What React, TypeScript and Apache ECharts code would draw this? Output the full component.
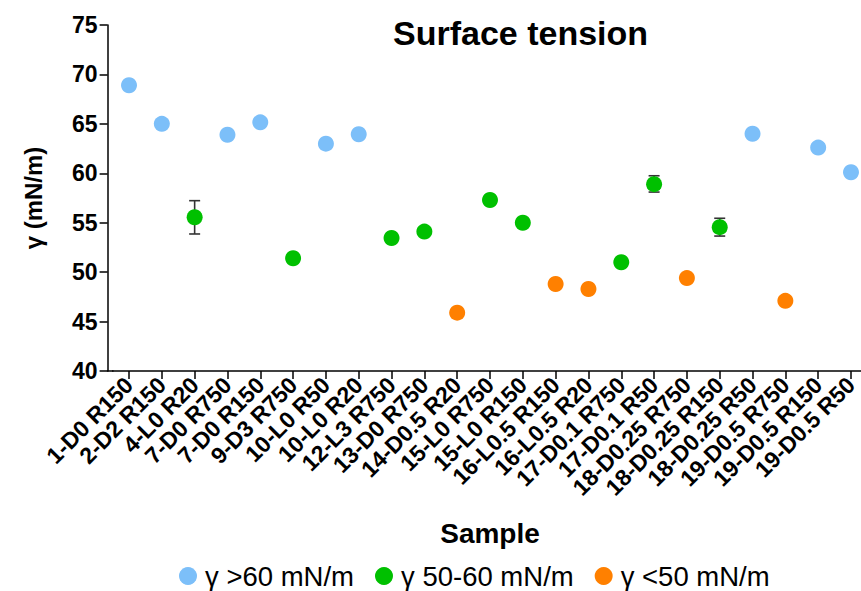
import React, { useEffect, useRef } from "react";
import * as echarts from "echarts";

const categories = [
  "1-D0 R150", "2-D2 R150", "4-L0 R20", "7-D0 R750", "7-D0 R150", "9-D3 R750",
  "10-L0 R50", "10-L0 R20", "12-L3 R750", "13-D0 R750", "14-D0.5 R20", "15-L0 R750",
  "15-L0 R150", "16-L0.5 R150", "16-L0.5 R20", "17-D0.1 R750", "17-D0.1 R50",
  "18-D0.25 R750", "18-D0.25 R150", "18-D0.25 R50", "19-D0.5 R750", "19-D0.5 R150", "19-D0.5 R50",
];

const tension = [
  68.9, 65.0, 55.55, 63.9, 65.15, 51.4,
  63.0, 63.95, 53.45, 54.1, 45.9, 57.3,
  55.0, 48.8, 48.3, 51.0, 58.9,
  49.4, 54.55, 64.0, 47.1, 62.6, 60.1,
];

const errorSamples = ["4-L0 R20", "17-D0.1 R50", "18-D0.25 R150"];
const errorLow = [53.86, 58.1, 53.65];
const errorHigh = [57.23, 59.75, 55.45];

const groupNames = ["γ >60 mN/m", "γ 50-60 mN/m", "γ <50 mN/m"];
const groupColors = ["#7cbff9", "#00c000", "#ff8000"];

const yTicks = { min: 40, max: 75, interval: 5 };

const FONT = "'Liberation Sans', Arial, Helvetica, sans-serif";

function groupOf(v: number): number {
  if (v > 60) return 0;
  if (v >= 50) return 1;
  return 2;
}

export default function App() {
  const ref = useRef<HTMLDivElement>(null);
  useEffect(() => {
    if (!ref.current) return;
    const chart = echarts.init(ref.current, null, { renderer: "svg" });

    const scatterSeries = groupNames.map((name, g) => ({
      name,
      type: "scatter",
      symbol: "circle",
      symbolSize: 16,
      z: 3,
      itemStyle: { color: groupColors[g], opacity: 1 },
      data: tension
        .map((v, i) => (groupOf(v) === g ? [categories[i], v] : null))
        .filter((d) => d !== null),
    }));

    const errorData = errorSamples.map((s, i) => [categories.indexOf(s), errorLow[i], errorHigh[i]]);

    const option: any = {
      animation: false,
      backgroundColor: "#ffffff",
      textStyle: { fontFamily: FONT },
      title: {
        text: "Surface tension",
        left: 388,
        top: 11,
        textStyle: { fontSize: 34, fontWeight: "bold", color: "#000", fontFamily: FONT },
      },
      legend: {
        data: groupNames,
        left: 174,
        top: 557,
        icon: "circle",
        itemWidth: 24,
        itemHeight: 18,
        itemGap: 21,
        textStyle: { fontSize: 27.5, color: "#000", fontFamily: FONT },
      },
      grid: {
        left: 112.6,
        top: 25,
        right: -6.4,
        height: 346,
        containLabel: false,
        outerBoundsMode: "none",
      },
      xAxis: {
        type: "category",
        data: categories,
        boundaryGap: true,
        name: "Sample",
        nameLocation: "middle",
        nameGap: 148,
        nameTextStyle: { fontSize: 28, fontWeight: "bold", color: "#000", fontFamily: FONT },
        axisLine: { show: true, lineStyle: { color: "#000", width: 1.5 } },
        axisTick: { show: true, alignWithLabel: true, length: 8, lineStyle: { color: "#000", width: 1.5 } },
        axisLabel: {
          interval: 0,
          rotate: 45,
          margin: 10,
          fontSize: 23,
          fontWeight: "bold",
          color: "#000",
          fontFamily: FONT,
        },
        splitLine: { show: false },
      },
      yAxis: {
        type: "value",
        min: yTicks.min,
        max: yTicks.max,
        interval: yTicks.interval,
        offset: 5,
        name: "γ (mN/m)",
        nameLocation: "middle",
        nameGap: 62,
        nameTextStyle: { fontSize: 24, fontWeight: "bold", color: "#000", fontFamily: FONT },
        axisLine: { show: true, lineStyle: { color: "#000", width: 1.5 } },
        axisTick: { show: true, length: 8, lineStyle: { color: "#000", width: 1.5 } },
        axisLabel: { margin: 10, fontSize: 23, fontWeight: "bold", color: "#000", fontFamily: FONT },
        splitLine: { show: false },
      },
      graphic: [
        {
          type: "line",
          shape: { x1: 106.9, y1: 371, x2: 113.5, y2: 371 },
          style: { stroke: "#000", lineWidth: 1.5 },
          z: 10,
        },
      ],
      series: [
        {
          type: "custom",
          name: "error",
          z: 1,
          data: errorData,
          renderItem: (params: any, api: any) => {
            const x = api.value(0);
            const top = api.coord([x, api.value(2)]);
            const bot = api.coord([x, api.value(1)]);
            const half = 5.5;
            const style = { stroke: "#333", lineWidth: 1.6 };
            return {
              type: "group",
              children: [
                { type: "line", shape: { x1: top[0], y1: top[1], x2: bot[0], y2: bot[1] }, style },
                { type: "line", shape: { x1: top[0] - half, y1: top[1], x2: top[0] + half, y2: top[1] }, style },
                { type: "line", shape: { x1: bot[0] - half, y1: bot[1], x2: bot[0] + half, y2: bot[1] }, style },
              ],
            };
          },
        },
        ...scatterSeries,
      ],
    };
    chart.setOption(option);
    return () => chart.dispose();
  }, []);
  return (
    <div
      ref={ref}
      style={{ position: "fixed", left: 0, top: 0, width: 861, height: 591, background: "#fff" }}
    />
  );
}
